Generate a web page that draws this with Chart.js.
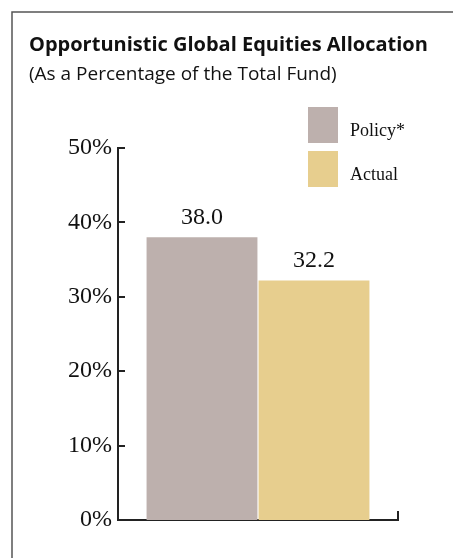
<!DOCTYPE html>
<html>
<head>
<meta charset="utf-8">
<script src="https://cdn.jsdelivr.net/npm/chart.js@4.4.1/dist/chart.umd.min.js"></script>
<style>
  html, body { margin: 0; padding: 0; background: #fff; }
  #wrap { width: 453px; height: 558px; position: relative; }
</style>
</head>
<body>
<div id="wrap"><canvas id="chart" width="453" height="558"></canvas></div>
<script>
// allocation data
const categories = [''];
const seriesNames = ['Policy*', 'Actual'];
const policyValues = [38.0];
const actualValues = [32.2];
const yTicks = [0, 10, 20, 30, 40, 50];

const titleText = 'Opportunistic Global Equities Allocation';
const subtitleText = '(As a Percentage of the Total Fund)';

const serif = '"Liberation Serif", "DejaVu Serif", serif';
const sans = '"Open Sans", Lato, sans-serif';

// frame + heading
const framePlugin = {
  id: 'frame',
  beforeDraw(chart) {
    const ctx = chart.ctx;
    ctx.save();
    ctx.strokeStyle = '#555';
    ctx.lineWidth = 1.5;
    ctx.beginPath();
    ctx.moveTo(12, 558);
    ctx.lineTo(12, 12);
    ctx.lineTo(453, 12);
    ctx.stroke();

    ctx.fillStyle = '#111';
    ctx.textAlign = 'left';
    ctx.textBaseline = 'alphabetic';
    ctx.font = 'bold 20px ' + sans;
    ctx.fillText(titleText, 29, 51);
    ctx.font = '19px ' + sans;
    ctx.fillText(subtitleText, 29, 80);
    ctx.restore();
  }
};

// inward ticks on the value axis, end tick on the base line
const axisTicksPlugin = {
  id: 'axisTicks',
  afterDraw(chart) {
    const ctx = chart.ctx;
    const y = chart.scales.y;
    const area = chart.chartArea;
    ctx.save();
    ctx.strokeStyle = '#222';
    ctx.lineWidth = 2;
    ctx.beginPath();
    yTicks.forEach(v => {
      if (v === 0) return;
      const py = Math.round(y.getPixelForValue(v));
      ctx.moveTo(area.left, py);
      ctx.lineTo(area.left + 7, py);
    });
    ctx.moveTo(area.right, area.bottom);
    ctx.lineTo(area.right, area.bottom - 9);
    ctx.stroke();
    ctx.restore();
  }
};

// value labels above bars
const valueLabelsPlugin = {
  id: 'valueLabels',
  afterDatasetsDraw(chart) {
    const ctx = chart.ctx;
    ctx.save();
    ctx.fillStyle = '#111';
    ctx.font = '24px ' + serif;
    ctx.textAlign = 'center';
    ctx.textBaseline = 'alphabetic';
    chart.data.datasets.forEach((ds, i) => {
      chart.getDatasetMeta(i).data.forEach((bar, j) => {
        ctx.fillText(ds.data[j].toFixed(1), bar.x, bar.y - 13);
      });
    });
    ctx.restore();
  }
};

// legend boxes at top right
const legendPlugin = {
  id: 'boxLegend',
  afterDraw(chart) {
    const ctx = chart.ctx;
    ctx.save();
    ctx.font = '18px ' + serif;
    ctx.textAlign = 'left';
    ctx.textBaseline = 'alphabetic';
    chart.data.datasets.forEach((ds, i) => {
      const top = 107 + i * 44;
      ctx.fillStyle = ds.backgroundColor;
      ctx.fillRect(308, top, 30, 36);
      ctx.fillStyle = '#111';
      ctx.fillText(ds.label, 350, top + 28.5);
    });
    ctx.restore();
  }
};

new Chart(document.getElementById('chart'), {
  type: 'bar',
  data: {
    labels: categories,
    datasets: [
      { label: seriesNames[0], data: policyValues, backgroundColor: '#bdb0ad' },
      { label: seriesNames[1], data: actualValues, backgroundColor: '#e7ce8e' }
    ]
  },
  options: {
    responsive: false,
    animation: false,
    events: [],
    layout: { padding: { left: 0, top: 148, right: 55, bottom: 38 } },
    datasets: {
      bar: { categoryPercentage: 0.8, barPercentage: 0.99 }
    },
    plugins: {
      legend: { display: false },
      tooltip: { enabled: false },
      title: { display: false }
    },
    scales: {
      x: {
        grid: { display: false, drawTicks: false },
        border: { display: true, color: '#222', width: 2 },
        ticks: { display: false },
        afterFit(scale) { scale.height = 0; }
      },
      y: {
        min: 0,
        max: 50,
        afterBuildTicks(scale) { scale.ticks = yTicks.map(v => ({ value: v })); },
        grid: { display: false, drawTicks: false },
        border: { display: true, color: '#222', width: 2 },
        ticks: {
          padding: 6,
          color: '#111',
          font: { family: serif, size: 24 },
          callback: v => v + '%'
        },
        afterFit(scale) { scale.width = 118; }
      }
    }
  },
  plugins: [framePlugin, axisTicksPlugin, valueLabelsPlugin, legendPlugin]
});
</script>
</body>
</html>
